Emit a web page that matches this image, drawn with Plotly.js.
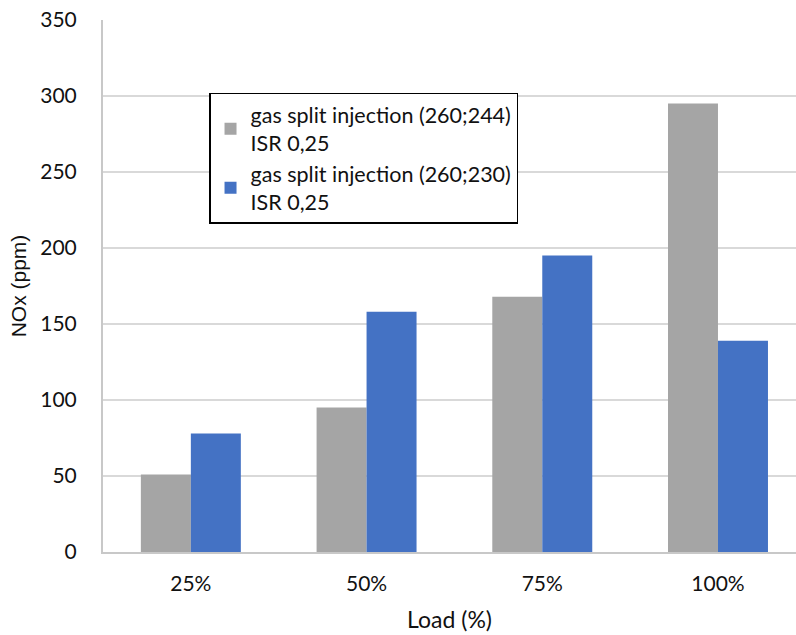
<!DOCTYPE html>
<html>
<head>
<meta charset="utf-8">
<script src="https://cdn.plot.ly/plotly-3.0.1.min.js"></script>
<style>html,body{margin:0;padding:0;background:#fff;}#chart{width:796px;height:635px;}</style>
</head>
<body>
<div id="chart"></div>
<script>
// NOx emissions by engine load for two gas split-injection timings
const loads = ['25%', '50%', '75%', '100%'];
const nox244 = [51, 95, 168, 295];
const nox230 = [78, 158, 195, 139];
const name244 = 'gas split injection (260;244)<br>ISR 0,25';
const name230 = 'gas split injection (260;230)<br>ISR 0,25';

const font = 'Lato, "Open Sans", sans-serif';

const traces = [
  {type: 'bar', x: loads, y: nox244, name: name244, marker: {color: '#a5a5a5'}},
  {type: 'bar', x: loads, y: nox230, name: name230, marker: {color: '#4472c4'}}
];

const layout = {
  width: 796, height: 635,
  margin: {l: 103, r: 0, t: 20, b: 83, autoexpand: false},
  paper_bgcolor: '#fff', plot_bgcolor: '#fff',
  font: {family: font, size: 20, color: '#111'},
  barmode: 'group', bargap: 0.431, bargroupgap: 0,
  xaxis: {
    type: 'category',
    range: [-0.5, 3.444],
    automargin: false,
    showline: true, linecolor: '#c8c8c8', linewidth: 2,
    ticks: '', showgrid: false,
    tickfont: {size: 21, family: font, color: '#111'},
    ticklabelstandoff: 12,
    title: {text: 'Load (%)', font: {size: 23, family: font, color: '#111'}, standoff: 18}
  },
  yaxis: {
    range: [0, 350], dtick: 50,
    automargin: false,
    showline: true, linecolor: '#c8c8c8', linewidth: 2,
    gridcolor: '#d9d9d9', gridwidth: 2,
    zeroline: false, ticks: '',
    tickfont: {size: 21, family: font, color: '#111'},
    ticklabelstandoff: 20,
    title: {text: 'NOx (ppm)', font: {size: 21, family: '"Liberation Sans", Arial, sans-serif', color: '#111'}, standoff: 8}
  },
  legend: {
    x: 0.153, y: 0.863, xanchor: 'left', yanchor: 'top',
    bgcolor: '#fff', bordercolor: '#000', borderwidth: 1.5,
    font: {size: 21.5, family: font, color: '#111'},
    tracegroupgap: 9, itemwidth: 30
  },
  showlegend: true
};

Plotly.newPlot('chart', traces, layout, {displayModeBar: false, staticPlot: true});
</script>
</body>
</html>
